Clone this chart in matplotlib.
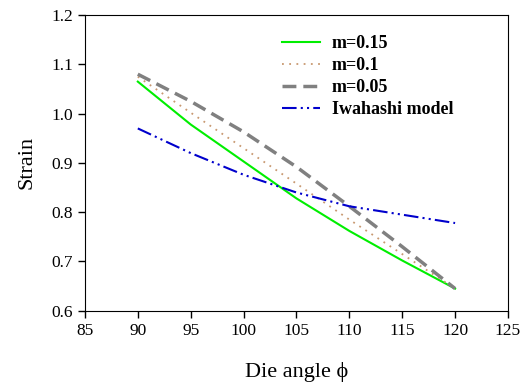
import matplotlib
matplotlib.use("Agg")
import matplotlib.pyplot as plt

plt.rcParams['font.family'] = ['Liberation Serif', 'DejaVu Serif']

# data
angle = [90, 95, 100, 105, 110, 115, 120]
m015 = [1.065, 0.978, 0.903, 0.828, 0.762, 0.702, 0.645]
m01 = [1.075, 1.002, 0.930, 0.858, 0.785, 0.715, 0.645]
m005 = [1.080, 1.025, 0.963, 0.892, 0.812, 0.730, 0.645]
iwahashi = [0.970, 0.920, 0.876, 0.840, 0.812, 0.795, 0.778]

fig = plt.figure(figsize=(5.21, 3.87), dpi=100)
ax = fig.add_axes([0.163, 0.197, 0.812, 0.764])

ax.plot(angle, m015, color='#00ee00', lw=1.5, label='m=0.15')
ax.plot(angle, m01, color='#c89870', lw=1.3, linestyle=(0, (1, 3)), label='m=0.1')
ax.plot(angle, m005, color='#808080', lw=2.5, linestyle=(0, (4, 2)), label='m=0.05')
ax.plot(angle, iwahashi, color='#0000cc', lw=1.5, linestyle=(0, (7, 2, 1, 2, 1, 2)),
        label='Iwahashi model')

ax.set_xlim(85, 125)
ax.set_ylim(0.6, 1.2)
ax.set_xticks(range(85, 126, 5))
ax.set_yticks([0.6, 0.7, 0.8, 0.9, 1.0, 1.1, 1.2])
ax.set_yticklabels(['0.6', '0.7', '0.8', '0.9', '1.0', '1.1', '1.2'])
ax.tick_params(direction='out', length=5, labelsize=12.5, width=1)
ax.set_xlabel('Die angle \u03d5', fontsize=16, labelpad=17)
ax.set_ylabel('Strain', fontsize=16, labelpad=11)

leg = ax.legend(loc='upper left', bbox_to_anchor=(0.466, 0.933), frameon=False,
                prop={'weight': 'bold', 'size': 13}, handlelength=2.1,
                handletextpad=0.65, labelspacing=0.28, borderpad=0,
                borderaxespad=0)

fig.savefig('out.png', dpi=100)
